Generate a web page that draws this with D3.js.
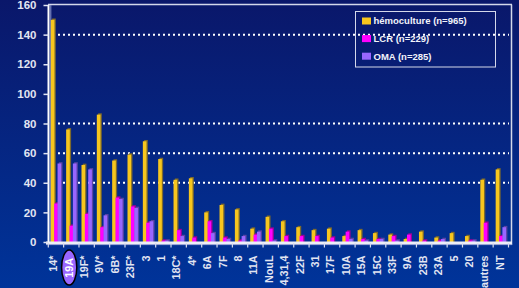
<!DOCTYPE html>
<html><head><meta charset="utf-8">
<script src="https://cdn.jsdelivr.net/npm/d3@7"></script>
<style>html,body{margin:0;padding:0;background:#02257e;}svg{display:block;}</style>
</head><body>
<svg id="c" width="519" height="288"></svg>
<script>
const categories = ["14*","19A","19F*","9V*","6B*","23F*","3","1","18C*","4*","6A","7F","8","11A","NouL","4,31,4","22F","31","17F","10A","15A","15C","33F","9A","23B","23A","5","20","autres","NT"];
const hemoculture = [150,76,52,86,55,59,68,56,42,43,20,25,22,9,17,14,10,8,9,4,8,6,5,2,7,3,6,4,42,49];
const lcr = [26,11,19,10,30,24,13,1,8,3,14,3,1,5,9,4,4,4,3,7,2,2,4,5,1,1,0,1,13,4];
const oma = [53,53,49,18,29,23,14,1,4,0,6,2,4,7,1,0,0,0,0,2,1,2,1,0,0,2,0,1,0,10];
const seriesNames = ["hémoculture (n=965)","LCR (n=229)","OMA (n=285)"];
const yTicks = [0,20,40,60,80,100,120,140,160];
const gridValues = [40,60,80,140];
const highlighted = "19A";

const series = [
  {key:"h", name:seriesNames[0], values:hemoculture, fill:"#f7c61e", shade:"#7d6a2c"},
  {key:"l", name:seriesNames[1], values:lcr, fill:"#ff00ff", shade:"#9a0098"},
  {key:"o", name:seriesNames[2], values:oma, fill:"#9966ff", shade:"#5a44a6"}
];

const svg = d3.select("#c");
const defs = svg.append("defs");
const grad = defs.append("linearGradient").attr("id","bg").attr("x1",0).attr("y1",0).attr("x2",0).attr("y2",1);
grad.append("stop").attr("offset","0%").attr("stop-color","#0a176a");
grad.append("stop").attr("offset","100%").attr("stop-color","#00349a");
svg.append("rect").attr("width",519).attr("height",288).attr("fill","url(#bg)");

const y = d3.scaleLinear().domain([0,160]).range([242,5]);
const x = d3.scaleBand().domain(categories).range([48.3,508.5]);
const xLab = d3.scaleBand().domain(categories).range([45.6,507.6]);
const xIn = d3.scaleBand().domain(series.map(s=>s.key)).range([2.5,12.6]);

// grid
svg.append("g").selectAll("line").data(gridValues).join("line")
  .attr("x1",53).attr("x2",509).attr("y1",d=>y(d)).attr("y2",d=>y(d))
  .attr("stroke","#ffffff").attr("stroke-width",2).attr("stroke-dasharray","2,3");

// frame
svg.append("line").attr("x1",48).attr("x2",512).attr("y1",4.5).attr("y2",4.5).attr("stroke","#d4d8ea").attr("stroke-width",1.5);
svg.append("line").attr("x1",511.5).attr("x2",511.5).attr("y1",4.5).attr("y2",245).attr("stroke","#d4d8ea").attr("stroke-width",1.5);
svg.append("line").attr("x1",50.8).attr("x2",50.8).attr("y1",5).attr("y2",243).attr("stroke","#8a96cc").attr("stroke-width",1);

// bars
const gBars = svg.append("g");
series.forEach(s=>{
  const data = categories.map((c,i)=>({c, v:s.values[i]})).filter(d=>d.v>0);
  const w = xIn.bandwidth()+0.3;
  gBars.append("g").selectAll("rect").data(data).join("rect")
    .attr("x",d=>x(d.c)+xIn(s.key)+1.3).attr("y",d=>y(d.v)-1.3)
    .attr("width",w).attr("height",d=>y(0)-y(d.v)+1.3).attr("fill",s.shade);
  gBars.append("g").selectAll("rect").data(data).join("rect")
    .attr("x",d=>x(d.c)+xIn(s.key)).attr("y",d=>y(d.v))
    .attr("width",w).attr("height",d=>y(0)-y(d.v)).attr("fill",s.fill);
});

// x floor
svg.append("rect").attr("x",46).attr("y",241.5).attr("width",466).attr("height",2.6).attr("fill","#eceef8");
svg.append("line").attr("x1",46).attr("x2",512).attr("y1",244.6).attr("y2",244.6).attr("stroke","#a8b0dc").attr("stroke-width",1);
const bounds = categories.map(c=>x(c)).concat([x.range()[1]]);
svg.append("g").selectAll("line").data(bounds).join("line")
  .attr("x1",d=>d).attr("x2",d=>d).attr("y1",243).attr("y2",247.5)
  .attr("stroke","#d8dcee").attr("stroke-width",1.2);

// y axis
const yAxis = svg.append("g").attr("transform","translate(48.5,0)")
  .call(d3.axisLeft(y).tickValues(yTicks).tickSize(5).tickPadding(7));
yAxis.select(".domain").attr("stroke","#ffffff").attr("stroke-width",2).attr("d","M0,5V243");
yAxis.selectAll(".tick line").attr("stroke","#e0e4f2").attr("stroke-width",1.5);
yAxis.selectAll(".tick text").attr("fill","#e2e5f2").attr("font-family","Liberation Sans, Arial, sans-serif")
  .attr("font-weight","bold").attr("font-size","11.5px");

// highlight ellipse
svg.append("ellipse").attr("cx",xLab(highlighted)+xLab.bandwidth()/2+0.5).attr("cy",267.5)
  .attr("rx",7.6).attr("ry",17.5).attr("fill","#9966ff").attr("stroke","#000000").attr("stroke-width",1.5);

// x labels
svg.append("g").selectAll("text").data(categories).join("text")
  .attr("transform",d=>`translate(${xLab(d)+xLab.bandwidth()/2},${d===highlighted?258:255.5}) rotate(-90)`)
  .attr("dy","0.36em").attr("text-anchor","end")
  .attr("fill",d=>d===highlighted?"#ffffff":"#e2e5f2")
  .attr("font-family","Liberation Sans, Arial, sans-serif").attr("font-weight","bold").attr("font-size","10.8px")
  .text(d=>d);

// legend
const lg = svg.append("g");
lg.append("rect").attr("x",355.5).attr("y",11.5).attr("width",140).attr("height",55.5)
  .attr("fill","none").attr("stroke","#d4d8ea").attr("stroke-width",1);
const lgRows = lg.selectAll("g").data(series).join("g")
  .attr("transform",(d,i)=>`translate(0,${21+i*17.6})`);
lgRows.append("rect").attr("x",362).attr("y",-3.5).attr("width",9).attr("height",7).attr("fill",d=>d.fill);
lgRows.append("text").attr("x",373.5).attr("y",0).attr("dy","0.35em")
  .attr("fill","#f2f3fa").attr("font-family","Liberation Sans, Arial, sans-serif").attr("font-weight","bold").attr("font-size","9.5px")
  .text(d=>d.name);
</script>
</body></html>
